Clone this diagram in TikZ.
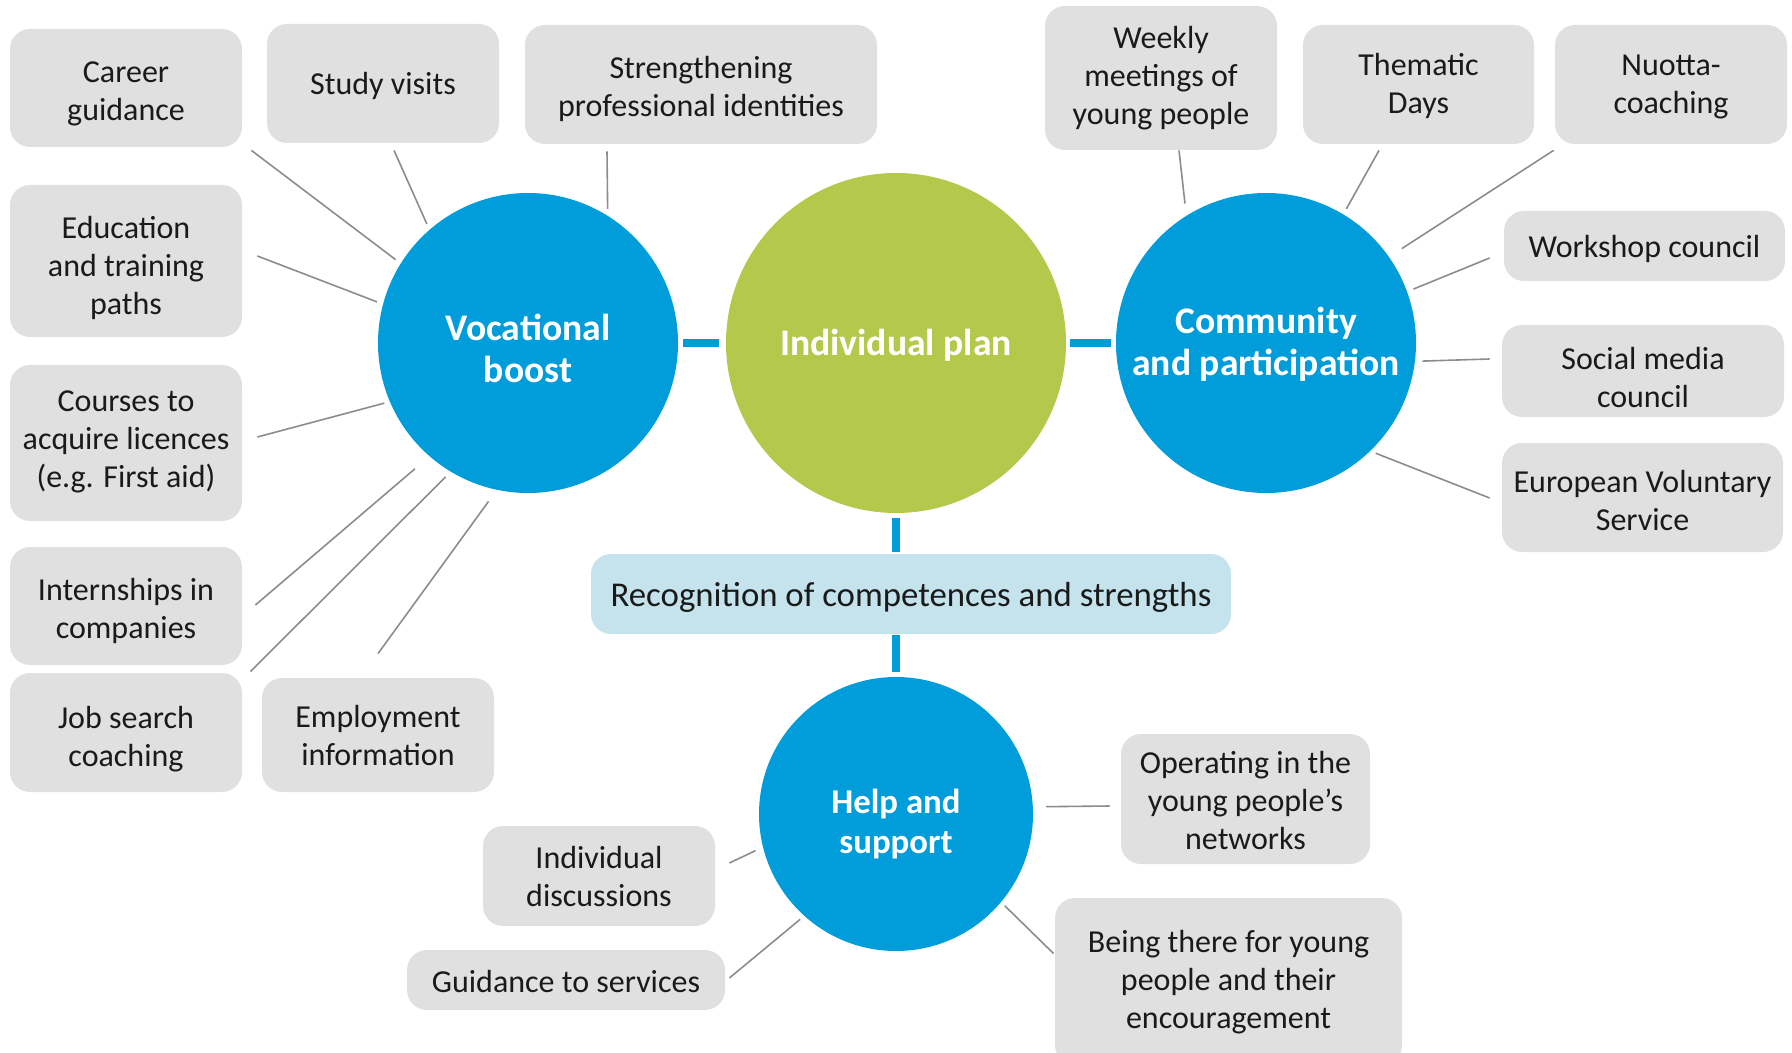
\documentclass[tikz,border=0pt]{standalone}
\usepackage{fontspec}
\setmainfont{Carlito}
\usetikzlibrary{calc}
\definecolor{cblue}{HTML}{009DDA}
\definecolor{cgreen}{HTML}{B4C84C}
\definecolor{cgray}{HTML}{E0E0E0}
\definecolor{clight}{HTML}{C4E3EC}
\definecolor{cline}{HTML}{8C8C8C}
\definecolor{ctext}{HTML}{1A1A1A}
\begin{document}
\begin{tikzpicture}[x=0.5pt,y=-0.5pt,
  gbox/.style={fill=cgray, rounded corners=10pt, inner sep=0pt},
  btxt/.style={align=center, text=ctext, inner sep=0pt,
    font=\fontsize{16}{19}\selectfont},
  bigc/.style={circle, fill=cblue, inner sep=0pt},
  ctxt/.style={align=center, text=white, inner sep=0pt,
    font=\fontsize{18.8}{21}\selectfont\bfseries},
  gline/.style={draw=cline, line width=0.8pt},
  bline/.style={draw=cblue, line width=4pt},
]
\useasboundingbox (0,0) rectangle (1792,1053);

% circles
\node[bigc, minimum size=150pt, label={[ctxt, yshift=-2.9pt]center:{Vocational\\boost}}] (vb) at (528,343) {};
\node[bigc, fill=cgreen, minimum size=170pt, label={[ctxt, yshift=-1.1pt]center:{Individual plan}}] (ip) at (896,343) {};
\node[bigc, minimum size=150pt, label={[ctxt, yshift=-0.6pt]center:{Community\\and participation}}] (cp) at (1266,343) {};
\node[bigc, minimum size=137pt, label={[ctxt, yshift=-5.2pt, font=\fontsize{17.4}{20}\selectfont\bfseries]center:{Help and\\support}}] (hs) at (896,814) {};

% recognition box
\node[gbox, fill=clight, minimum width=320pt, minimum height=40pt,
  label={[btxt, yshift=-1.7pt, font=\fontsize{17.4}{20}\selectfont]center:{Recognition of competences and strengths}}] (rec) at (911,594) {};

% gray boxes
\node[gbox, minimum width=116pt, minimum height=59pt, label={[btxt, yshift=-2.9pt]center:{Career\\guidance}}] (cg) at (126,88) {};
\node[gbox, minimum width=116pt, minimum height=59.5pt, label={[btxt, yshift=-1.1pt]center:{Study visits}}] (sv) at (383,83.5) {};
\node[gbox, minimum width=176pt, minimum height=59.5pt, label={[btxt, yshift=-2pt]center:{Strengthening\\professional identities}}] (sp) at (701,84.5) {};
\node[gbox, minimum width=116pt, minimum height=76pt, label={[btxt, yshift=-3.3pt]center:{Education\\and training\\paths}}] (ed) at (126,261) {};
\node[gbox, minimum width=116pt, minimum height=78pt, label={[btxt, yshift=0.7pt]center:{Courses to\\acquire licences\\(e.g. First aid)}}] (co) at (126,443) {};
\node[gbox, minimum width=116pt, minimum height=59pt, label={[btxt, yshift=-2.6pt]center:{Internships in\\companies}}] (in) at (126,606) {};
\node[gbox, minimum width=116pt, minimum height=59.5pt, label={[btxt, yshift=-3.1pt]center:{Job search\\coaching}}] (js) at (126,732.5) {};
\node[gbox, minimum width=116pt, minimum height=57pt, label={[btxt, yshift=-0.3pt]center:{Employment\\information}}] (em) at (378,735) {};

\node[gbox, minimum width=116pt, minimum height=72pt, label={[btxt]center:{Weekly\\meetings of\\young people}}] (wk) at (1161,78) {};
\node[gbox, minimum width=115.5pt, minimum height=59.5pt, label={[btxt, yshift=-0.9pt]center:{Thematic\\Days}}] (th) at (1418.5,84.5) {};
\node[gbox, minimum width=116pt, minimum height=59.5pt, label={[btxt, yshift=-1.1pt]center:{Nuotta-\\coaching}}] (nu) at (1671,84.5) {};
\node[gbox, minimum width=140.5pt, minimum height=35pt, label={[btxt, yshift=-1.7pt]center:{Workshop council}}] (ws) at (1644.5,246) {};
\node[gbox, minimum width=141pt, minimum height=46pt, label={[btxt, yshift=-3.1pt]center:{Social media\\council}}] (sm) at (1643,371) {};
\node[gbox, minimum width=140.5pt, minimum height=54.5pt, label={[btxt, yshift=-1.7pt]center:{European Voluntary\\Service}}] (ev) at (1642.5,497.5) {};

\node[gbox, minimum width=124.5pt, minimum height=65pt, label={[btxt, yshift=-0.8pt]center:{Operating in the\\young people’s\\networks}}] (op) at (1245.5,799) {};
\node[gbox, minimum width=173.5pt, minimum height=83.5pt, label={[btxt, yshift=-0.2pt]center:{Being there for young\\people and their\\encouragement}}] (bt) at (1228.5,981.5) {};
\node[gbox, minimum width=116pt, minimum height=50pt, label={[btxt]center:{Individual\\discussions}}] (id) at (599,876) {};
\node[gbox, minimum width=159pt, minimum height=30pt, label={[btxt, yshift=-0.6pt]center:{Guidance to services}}] (gs) at (566,980) {};

% blue connectors
\draw[bline, shorten <=2.5pt, shorten >=3.5pt] (vb) -- (ip);
\draw[bline, shorten <=2pt, shorten >=2.5pt] (ip) -- (cp);
\draw[bline, shorten <=2.5pt, shorten >=1pt] (ip) -- (ip |- rec.north);
\draw[bline, shorten <=0.5pt, shorten >=2.5pt] (hs |- rec.south) -- (hs);

% gray connectors
\draw[gline, shorten >=3pt] ([shift={(9,3)}]cg.south east) -- (vb.148.7);
\draw[gline, shorten >=3pt] ([shift={(11,7)}]sv.south) -- (vb.131.9);
\draw[gline, shorten >=3.3pt] ([shift={(-94,7)}]sp.south) -- (vb.58);
\draw[gline, shorten >=3pt] ([shift={(15,-5)}]ed.east) -- (vb.165.2);
\draw[gline, shorten >=2.7pt] ([shift={(15,-6)}]co.east) -- (vb.203.9);
\draw[gline, shorten >=9.5pt] ([shift={(13,-1)}]in.east) -- (vb.229.3);
\draw[gline, shorten >=3.5pt] ([shift={(8,-1)}]js.north east) -- (vb.239.4);
\draw[gline, shorten >=7pt] ([shift={(0,-24)}]em.north) -- (vb.258);

\draw[gline, shorten >=6pt] ([shift={(18,0)}]wk.south) -- (cp.122.4);
\draw[gline, shorten >=3pt] ([shift={(-39.5,6)}]th.south) -- (cp.59.2);
\draw[gline, shorten >=7.5pt] ([shift={(-1,6)}]nu.south west) -- (cp.35.9);
\draw[gline, shorten >=3.3pt] ([shift={(-14,12)}]ws.west) -- (cp.20.2);
\draw[gline, shorten >=3.5pt] ([shift={(-12,-12)}]sm.west) -- (cp.353.9);
\draw[gline, shorten >=2.8pt] ([shift={(-12,0.5)}]ev.west) -- (cp.314);

\draw[gline, shorten >=6.5pt] ([shift={(-11,7)}]op.west) -- (hs.3.35);
\draw[gline, shorten >=2.5pt] ([shift={(-1,56)}]bt.north west) -- (hs.320.7);
\draw[gline, shorten >=4pt] ([shift={(14,-13)}]id.east) -- (hs.194.8);
\draw[gline, shorten >=2.5pt] ([shift={(4,-2)}]gs.east) -- (hs.228.7);
\end{tikzpicture}
\end{document}
